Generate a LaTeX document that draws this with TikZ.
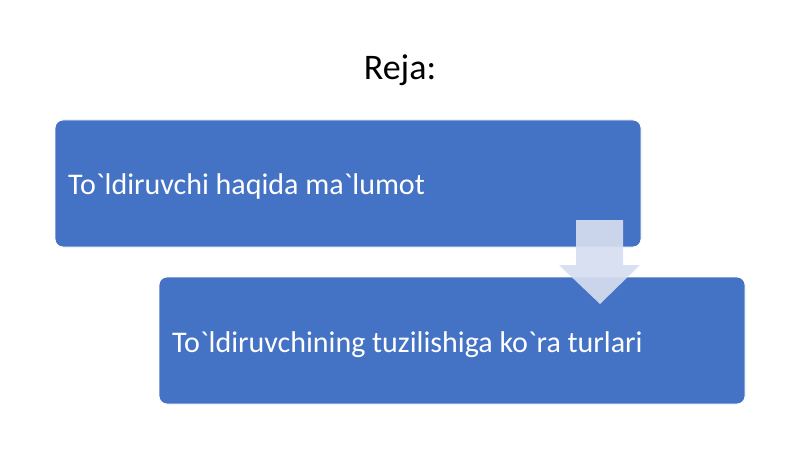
\documentclass[tikz,border=0pt]{standalone}
\usepackage{fontspec}
\setmainfont{Carlito}[Ligatures=TeXOff]
\definecolor{boxblue}{RGB}{68,114,196}
\definecolor{arrowfill}{RGB}{214,222,240}
\begin{document}
\begin{tikzpicture}[x=1pt,y=-1pt,
  blockbox/.style={fill=boxblue,draw=white,line width=0.8pt,rounded corners=8pt},
  blocktext/.style={text=white,font=\fontsize{30}{36}\selectfont,anchor=base west,inner sep=0pt}]
\useasboundingbox[fill=white] (0,0) rectangle (800,449);
\node[font=\fontsize{36}{42}\selectfont,anchor=base,inner sep=0pt] (title) at (400,80) {Reja:};
\draw[blockbox] (55,120) rectangle (641,247);
\node[blocktext] (t1) at (68,195) {To`ldiruvchi haqida ma`lumot};
\draw[blockbox] (159,277) rectangle (745,404);
\node[blocktext] (t2) at (172,352) {To`ldiruvchining tuzilishiga ko`ra turlari};
\fill[arrowfill,opacity=0.92] (576,220) -- (623,220) -- (623,265) -- (640,265) -- (600,304) -- (559,265) -- (576,265) -- cycle;
\end{tikzpicture}
\end{document}
